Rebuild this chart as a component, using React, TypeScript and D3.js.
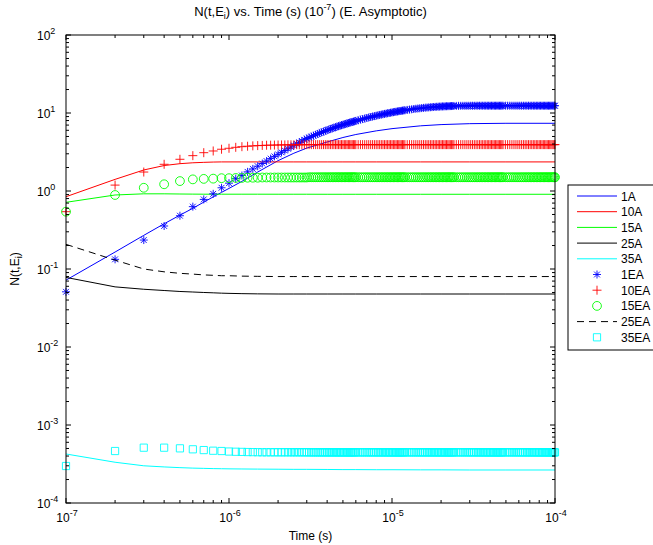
import React from "react";
import * as d3 from "d3";

// time step multipliers (t = k * 1e-7 s)
const TIME_UNIT = 1e-7;
const K_LINE = [1, 2, 3, 4, 5, 6, 7, 8, 9, 10, 12, 15, 20, 25, 30, 40, 50, 60, 80, 100, 150, 200, 300, 500, 1000];
const K_MARK = [
  1, 2, 3, 4, 5, 6, 7, 8, 9, 10, 11, 12, 13, 14, 15, 16, 17, 18, 19, 20, 21, 22, 23, 24, 25, 26, 27, 28, 29, 30,
  31, 32, 33, 34, 35, 36, 37, 38, 39, 40, 41, 42, 43, 44, 45, 46, 47, 48, 49, 50, 51, 52, 53, 54, 55, 56, 57, 58, 59, 60,
  62, 64, 66, 68, 70, 72, 74, 76, 78, 80, 82, 84, 86, 88, 90, 92, 94, 96, 98, 100, 102, 104, 106, 108, 110, 112, 114, 116, 118, 120,
  124, 128, 132, 136, 140, 144, 148, 152, 156, 160, 164, 168, 172, 176, 180, 184, 188, 192, 196, 200, 204, 208, 212, 216, 220, 224, 228, 232, 236, 240,
  248, 256, 264, 272, 280, 288, 296, 304, 312, 320, 328, 336, 344, 352, 360, 368, 376, 384, 392, 400, 408, 416, 424, 432, 440, 448, 456, 464, 472, 480,
  496, 512, 528, 544, 560, 576, 592, 608, 624, 640, 656, 672, 688, 704, 720, 736, 752, 768, 784, 800, 816, 832, 848, 864, 880, 896, 912, 928, 944, 960, 976, 992, 1000,
];

// line series (on K_LINE)
const A1 = [0.072, 0.165, 0.27, 0.38, 0.49, 0.6, 0.72, 0.84, 0.96, 1.08, 1.33, 1.75, 2.45, 3.05, 3.55, 4.25, 4.85, 5.3, 5.9, 6.3, 6.85, 7.1, 7.3, 7.38, 7.38];
const A10 = [0.845, 1.41, 1.86, 2.12, 2.24, 2.3, 2.33, 2.35, 2.36, 2.36, 2.36, 2.36, 2.36, 2.36, 2.36, 2.36, 2.36, 2.36, 2.36, 2.36, 2.36, 2.36, 2.36, 2.36, 2.36];
const A15 = [0.716, 0.889, 0.92, 0.92, 0.915, 0.912, 0.91, 0.91, 0.91, 0.91, 0.91, 0.91, 0.909, 0.909, 0.909, 0.908, 0.908, 0.908, 0.908, 0.908, 0.908, 0.908, 0.908, 0.908, 0.908];
const A25 = [0.078, 0.059, 0.055, 0.053, 0.0515, 0.0507, 0.05, 0.0495, 0.049, 0.0487, 0.0483, 0.048, 0.0478, 0.0478, 0.0478, 0.0478, 0.0478, 0.0478, 0.0478, 0.0478, 0.0478, 0.0478, 0.0478, 0.0478, 0.0478];
const A35 = [4.25e-4, 3.33e-4, 3.0e-4, 2.9e-4, 2.84e-4, 2.8e-4, 2.78e-4, 2.76e-4, 2.75e-4, 2.74e-4, 2.73e-4, 2.72e-4, 2.71e-4, 2.7e-4, 2.7e-4, 2.69e-4, 2.68e-4, 2.68e-4, 2.67e-4, 2.67e-4, 2.66e-4, 2.66e-4, 2.65e-4, 2.65e-4, 2.65e-4];
const EA25 = [0.207, 0.13, 0.1, 0.092, 0.088, 0.086, 0.084, 0.083, 0.082, 0.082, 0.081, 0.0805, 0.08, 0.08, 0.08, 0.08, 0.08, 0.08, 0.08, 0.08, 0.08, 0.08, 0.08, 0.08, 0.08];

// marker series (on K_MARK)
const EA1 = [
  0.051, 0.133, 0.235, 0.356, 0.482, 0.63, 0.78, 0.92, 1.1, 1.26,
  1.44, 1.58, 1.76, 1.92, 2.08, 2.25, 2.42, 2.6, 2.78, 2.95,
  3.13, 3.3, 3.48, 3.66, 3.84, 4.02, 4.2, 4.37, 4.54, 4.7,
  4.84, 4.98, 5.12, 5.26, 5.39, 5.52, 5.65, 5.78, 5.9, 6.02,
  6.14, 6.25, 6.36, 6.47, 6.58, 6.68, 6.78, 6.88, 6.98, 7.07,
  7.16, 7.25, 7.34, 7.43, 7.52, 7.6, 7.68, 7.76, 7.84, 7.92,
  8.07, 8.22, 8.36, 8.5, 8.63, 8.76, 8.88, 9.0, 9.12, 9.23,
  9.34, 9.44, 9.54, 9.64, 9.74, 9.83, 9.92, 10.0, 10.09, 10.17,
  10.25, 10.32, 10.4, 10.47, 10.54, 10.6, 10.67, 10.73, 10.79, 10.85,
  10.96, 11.06, 11.16, 11.25, 11.34, 11.42, 11.49, 11.56, 11.63, 11.69,
  11.75, 11.8, 11.85, 11.9, 11.94, 11.98, 12.02, 12.05, 12.08, 12.11,
  12.14, 12.16, 12.19, 12.21, 12.23, 12.25, 12.27, 12.28, 12.3, 12.31,
  12.33, 12.35, 12.36, 12.37, 12.37, 12.38, 12.38, 12.39, 12.39, 12.39,
  12.4, 12.4, 12.4, 12.4, 12.4, 12.4, 12.4, 12.4, 12.4, 12.4,
  12.4, 12.4, 12.4, 12.4, 12.4, 12.4, 12.4, 12.4, 12.4, 12.4,
  12.4, 12.4, 12.4, 12.4, 12.4, 12.4, 12.4, 12.4, 12.4, 12.4,
  12.4, 12.4, 12.4, 12.4, 12.4, 12.4, 12.4, 12.4, 12.4, 12.4,
  12.4, 12.4, 12.4, 12.4, 12.4, 12.4, 12.4, 12.4, 12.4, 12.4, 12.4, 12.4, 12.4,
];
const EA10 = [
  0.543, 1.19, 1.75, 2.2, 2.55, 2.84, 3.1, 3.26, 3.43, 3.53,
  3.63, 3.7, 3.75, 3.79, 3.82, 3.84, 3.86, 3.87, 3.88, 3.89,
  3.9, 3.9, 3.91, 3.91, 3.91, 3.92, 3.92, 3.92, 3.92, 3.93,
  3.93, 3.93, 3.93, 3.93, 3.93, 3.93, 3.93, 3.93, 3.93, 3.93,
  3.93, 3.93, 3.93, 3.93, 3.93, 3.93, 3.93, 3.93, 3.93, 3.93,
  3.93, 3.93, 3.93, 3.93, 3.93, 3.93, 3.93, 3.93, 3.93, 3.93,
  3.93, 3.93, 3.93, 3.93, 3.93, 3.93, 3.93, 3.93, 3.93, 3.93,
  3.93, 3.93, 3.93, 3.93, 3.93, 3.93, 3.93, 3.93, 3.93, 3.93,
  3.93, 3.93, 3.93, 3.93, 3.93, 3.93, 3.93, 3.93, 3.93, 3.93,
  3.93, 3.93, 3.93, 3.93, 3.93, 3.93, 3.93, 3.93, 3.93, 3.93,
  3.93, 3.93, 3.93, 3.93, 3.93, 3.93, 3.93, 3.93, 3.93, 3.93,
  3.93, 3.93, 3.93, 3.93, 3.93, 3.93, 3.93, 3.93, 3.93, 3.93,
  3.93, 3.93, 3.93, 3.93, 3.93, 3.93, 3.93, 3.93, 3.93, 3.93,
  3.93, 3.93, 3.93, 3.93, 3.93, 3.93, 3.93, 3.93, 3.93, 3.93,
  3.93, 3.93, 3.93, 3.93, 3.93, 3.93, 3.93, 3.93, 3.93, 3.93,
  3.93, 3.93, 3.93, 3.93, 3.93, 3.93, 3.93, 3.93, 3.93, 3.93,
  3.93, 3.93, 3.93, 3.93, 3.93, 3.93, 3.93, 3.93, 3.93, 3.93,
  3.93, 3.93, 3.93, 3.93, 3.93, 3.93, 3.93, 3.93, 3.93, 3.93, 3.93, 3.93, 3.93,
];
const EA15 = [
  0.543, 0.889, 1.1, 1.22, 1.34, 1.41, 1.43, 1.44, 1.46, 1.46,
  1.47, 1.47, 1.48, 1.48, 1.48, 1.49, 1.49, 1.49, 1.49, 1.49,
  1.49, 1.49, 1.49, 1.49, 1.49, 1.49, 1.49, 1.49, 1.49, 1.49,
  1.5, 1.5, 1.5, 1.5, 1.5, 1.5, 1.5, 1.5, 1.5, 1.5,
  1.5, 1.5, 1.5, 1.5, 1.5, 1.5, 1.5, 1.5, 1.5, 1.5,
  1.5, 1.5, 1.5, 1.5, 1.5, 1.5, 1.5, 1.5, 1.5, 1.5,
  1.5, 1.5, 1.5, 1.5, 1.5, 1.5, 1.5, 1.5, 1.5, 1.5,
  1.5, 1.5, 1.5, 1.5, 1.5, 1.5, 1.5, 1.5, 1.5, 1.5,
  1.5, 1.5, 1.5, 1.5, 1.5, 1.5, 1.5, 1.5, 1.5, 1.5,
  1.5, 1.5, 1.5, 1.5, 1.5, 1.5, 1.5, 1.5, 1.5, 1.5,
  1.5, 1.5, 1.5, 1.5, 1.5, 1.5, 1.5, 1.5, 1.5, 1.5,
  1.5, 1.5, 1.5, 1.5, 1.5, 1.5, 1.5, 1.5, 1.5, 1.5,
  1.5, 1.5, 1.5, 1.5, 1.5, 1.5, 1.5, 1.5, 1.5, 1.5,
  1.5, 1.5, 1.5, 1.5, 1.5, 1.5, 1.5, 1.5, 1.5, 1.5,
  1.5, 1.5, 1.5, 1.5, 1.5, 1.5, 1.5, 1.5, 1.5, 1.5,
  1.5, 1.5, 1.5, 1.5, 1.5, 1.5, 1.5, 1.5, 1.5, 1.5,
  1.5, 1.5, 1.5, 1.5, 1.5, 1.5, 1.5, 1.5, 1.5, 1.5,
  1.5, 1.5, 1.5, 1.5, 1.5, 1.5, 1.5, 1.5, 1.5, 1.5, 1.5, 1.5, 1.5,
];
const EA35 = [
  2.98e-4, 4.64e-4, 5.12e-4, 5.12e-4, 5.02e-4, 4.88e-4, 4.77e-4, 4.68e-4, 4.64e-4, 4.57e-4,
  4.54e-4, 4.52e-4, 4.5e-4, 4.49e-4, 4.48e-4, 4.47e-4, 4.47e-4, 4.47e-4, 4.47e-4, 4.47e-4,
  4.47e-4, 4.47e-4, 4.47e-4, 4.47e-4, 4.47e-4, 4.47e-4, 4.47e-4, 4.47e-4, 4.47e-4, 4.47e-4,
  4.46e-4, 4.46e-4, 4.46e-4, 4.46e-4, 4.46e-4, 4.46e-4, 4.46e-4, 4.46e-4, 4.46e-4, 4.46e-4,
  4.46e-4, 4.46e-4, 4.46e-4, 4.46e-4, 4.46e-4, 4.46e-4, 4.46e-4, 4.46e-4, 4.46e-4, 4.46e-4,
  4.46e-4, 4.46e-4, 4.46e-4, 4.46e-4, 4.46e-4, 4.46e-4, 4.46e-4, 4.46e-4, 4.46e-4, 4.46e-4,
  4.46e-4, 4.46e-4, 4.46e-4, 4.46e-4, 4.46e-4, 4.46e-4, 4.46e-4, 4.46e-4, 4.46e-4, 4.46e-4,
  4.46e-4, 4.46e-4, 4.46e-4, 4.46e-4, 4.46e-4, 4.46e-4, 4.46e-4, 4.46e-4, 4.46e-4, 4.46e-4,
  4.46e-4, 4.46e-4, 4.46e-4, 4.46e-4, 4.46e-4, 4.46e-4, 4.46e-4, 4.46e-4, 4.46e-4, 4.46e-4,
  4.46e-4, 4.46e-4, 4.46e-4, 4.46e-4, 4.46e-4, 4.46e-4, 4.46e-4, 4.46e-4, 4.46e-4, 4.46e-4,
  4.46e-4, 4.46e-4, 4.46e-4, 4.46e-4, 4.46e-4, 4.46e-4, 4.46e-4, 4.46e-4, 4.46e-4, 4.46e-4,
  4.46e-4, 4.46e-4, 4.46e-4, 4.46e-4, 4.46e-4, 4.46e-4, 4.46e-4, 4.46e-4, 4.46e-4, 4.46e-4,
  4.46e-4, 4.46e-4, 4.46e-4, 4.46e-4, 4.46e-4, 4.46e-4, 4.46e-4, 4.46e-4, 4.46e-4, 4.46e-4,
  4.46e-4, 4.46e-4, 4.46e-4, 4.46e-4, 4.46e-4, 4.46e-4, 4.46e-4, 4.46e-4, 4.46e-4, 4.46e-4,
  4.46e-4, 4.46e-4, 4.46e-4, 4.46e-4, 4.46e-4, 4.46e-4, 4.46e-4, 4.46e-4, 4.46e-4, 4.46e-4,
  4.46e-4, 4.46e-4, 4.46e-4, 4.46e-4, 4.46e-4, 4.46e-4, 4.46e-4, 4.46e-4, 4.46e-4, 4.46e-4,
  4.46e-4, 4.46e-4, 4.46e-4, 4.46e-4, 4.46e-4, 4.46e-4, 4.46e-4, 4.46e-4, 4.46e-4, 4.46e-4,
  4.46e-4, 4.46e-4, 4.46e-4, 4.46e-4, 4.46e-4, 4.46e-4, 4.46e-4, 4.46e-4, 4.46e-4, 4.46e-4, 4.46e-4, 4.46e-4, 4.46e-4,
];

const X_TICK_EXP = [-7, -6, -5, -4];
const Y_TICK_EXP = [-4, -3, -2, -1, 0, 1, 2];
const LEGEND_LABELS = ["1A", "10A", "15A", "25A", "35A", "1EA", "10EA", "15EA", "25EA", "35EA"];

const W = 653, H = 545;
const L = 66, R = 555, T = 35, B = 503;
const FONT = "'Liberation Sans', Arial, Helvetica, sans-serif";

const x = d3.scaleLog().domain([1e-7, 1e-4]).range([L, R]);
const y = d3.scaleLog().domain([1e-4, 1e2]).range([B, T]);

type MarkerKind = "star" | "plus" | "circle" | "square";

function markerPath(kind: MarkerKind): string {
  if (kind === "star") {
    const s = 4, d = 2.9;
    return `M${-s},0H${s}M0,${-s}V${s}M${-d},${-d}L${d},${d}M${-d},${d}L${d},${-d}`;
  }
  if (kind === "plus") {
    const s = 4.5;
    return `M${-s},0H${s}M0,${-s}V${s}`;
  }
  if (kind === "square") {
    const s = 3.6;
    return `M${-s},${-s}H${s}V${s}H${-s}Z`;
  }
  const r = 4.4;
  return `M${r},0A${r},${r} 0 1 1 ${-r},0A${r},${r} 0 1 1 ${r},0Z`;
}

function Marker({ kind, color, cx, cy }: { kind: MarkerKind; color: string; cx: number; cy: number }) {
  return <path d={markerPath(kind)} transform={`translate(${cx},${cy})`} fill="none" stroke={color} strokeWidth={0.9} />;
}

const lineGen = d3
  .line<[number, number]>()
  .x((d) => x(d[0] * TIME_UNIT))
  .y((d) => y(d[1]));

const lineSeries = [
  { name: "1A", vals: A1, color: "#0000ff" },
  { name: "10A", vals: A10, color: "#ff0000" },
  { name: "15A", vals: A15, color: "#00ff00" },
  { name: "25A", vals: A25, color: "#000000" },
  { name: "35A", vals: A35, color: "#00ffff" },
];
const markerSeries: { name: string; vals: number[]; color: string; kind: MarkerKind }[] = [
  { name: "1EA", vals: EA1, color: "#0000ff", kind: "star" },
  { name: "10EA", vals: EA10, color: "#ff0000", kind: "plus" },
  { name: "15EA", vals: EA15, color: "#00ff00", kind: "circle" },
  { name: "35EA", vals: EA35, color: "#00ffff", kind: "square" },
];

const TICK_FS = 12;
const SUP_FS = 9;

function Pow10({ e, ...rest }: any) {
  return (
    <text {...rest} fontSize={TICK_FS}>
      10
      <tspan dy={-6} fontSize={SUP_FS}>{e}</tspan>
    </text>
  );
}

export default function App() {
  const xMinor: number[] = [];
  for (let e = -7; e < -4; e++) for (let m = 2; m <= 9; m++) xMinor.push(m * Math.pow(10, e));
  const yMinor: number[] = [];
  for (let e = -4; e < 2; e++) for (let m = 2; m <= 9; m++) yMinor.push(m * Math.pow(10, e));

  const legendX = 568, legendY = 185, rowH = 15.7;

  return (
    <svg width={W} height={H} style={{ position: "absolute", left: 0, top: 0, background: "#fff" }} fontFamily={FONT}>
      <rect x={0} y={0} width={W} height={H} fill="#fff" />
      {/* data lines */}
      {lineSeries.map((s) => (
        <path key={s.name} d={lineGen(K_LINE.map((k, i) => [k, s.vals[i]]) as [number, number][]) || ""} fill="none" stroke={s.color} strokeWidth={1} />
      ))}
      {/* markers */}
      {markerSeries.map((s) => (
        <g key={s.name}>
          {K_MARK.map((k, i) =>
            s.vals[i] === undefined ? null : (
              <Marker key={i} kind={s.kind} color={s.color} cx={x(k * TIME_UNIT)} cy={y(s.vals[i])} />
            )
          )}
        </g>
      ))}
      <path d={lineGen(K_LINE.map((k, i) => [k, EA25[i]]) as [number, number][]) || ""} fill="none" stroke="#000" strokeWidth={1} strokeDasharray="7,5" />

      {/* axes box */}
      <rect x={L} y={T} width={R - L} height={B - T} fill="none" stroke="#000" strokeWidth={1} />
      {/* x ticks */}
      {X_TICK_EXP.map((e) => {
        const px = x(Math.pow(10, e));
        return (
          <g key={e}>
            <line x1={px} x2={px} y1={B} y2={B - 5} stroke="#000" />
            <line x1={px} x2={px} y1={T} y2={T + 5} stroke="#000" />
            <Pow10 x={px + 1} y={522} textAnchor="middle" e={e} />
          </g>
        );
      })}
      {xMinor.map((v, i) => {
        const px = x(v);
        return (
          <g key={i}>
            <line x1={px} x2={px} y1={B} y2={B - 3} stroke="#000" />
            <line x1={px} x2={px} y1={T} y2={T + 3} stroke="#000" />
          </g>
        );
      })}
      {/* y ticks */}
      {Y_TICK_EXP.map((e) => {
        const py = y(Math.pow(10, e));
        return (
          <g key={e}>
            <line x1={L} x2={L + 5} y1={py} y2={py} stroke="#000" />
            <line x1={R} x2={R - 5} y1={py} y2={py} stroke="#000" />
            <Pow10 x={37} y={py + 5} textAnchor="start" e={e} />
          </g>
        );
      })}
      {yMinor.map((v, i) => {
        const py = y(v);
        return (
          <g key={i}>
            <line x1={L} x2={L + 3} y1={py} y2={py} stroke="#000" />
            <line x1={R} x2={R - 3} y1={py} y2={py} stroke="#000" />
          </g>
        );
      })}

      {/* title */}
      <text x={(L + R) / 2} y={16} textAnchor="middle" fontSize={13}>
        N(t,E<tspan dy={3} fontSize={9}>i</tspan>
        <tspan dy={-3}>) vs. Time (s) (10</tspan>
        <tspan dy={-6} fontSize={9}>-7</tspan>
        <tspan dy={6}>) (E. Asymptotic)</tspan>
      </text>
      {/* x label */}
      <text x={(L + R) / 2} y={540} textAnchor="middle" fontSize={12}>Time (s)</text>
      {/* y label */}
      <text transform={`translate(19,${(T + B) / 2}) rotate(-90)`} textAnchor="middle" fontSize={12}>
        N(t,E<tspan dy={3} fontSize={9}>i</tspan>
        <tspan dy={-3}>)</tspan>
      </text>

      {/* legend */}
      <g>
        <rect x={legendX} y={legendY} width={100} height={rowH * 10 + 8} fill="#fff" stroke="#000" strokeWidth={1} />
        {LEGEND_LABELS.map((lab, i) => {
          const cy = legendY + 11 + i * rowH;
          const ls = lineSeries.find((s) => s.name === lab);
          const ms = markerSeries.find((s) => s.name === lab);
          return (
            <g key={lab}>
              {ls && <line x1={577} x2={617} y1={cy} y2={cy} stroke={ls.color} strokeWidth={1} />}
              {ms && <Marker kind={ms.kind} color={ms.color} cx={597} cy={cy} />}
              {lab === "25EA" && <line x1={577} x2={617} y1={cy} y2={cy} stroke="#000" strokeWidth={1} strokeDasharray="7,5" />}
              <text x={621} y={cy + 4.5} fontSize={12}>{lab}</text>
            </g>
          );
        })}
      </g>
    </svg>
  );
}
